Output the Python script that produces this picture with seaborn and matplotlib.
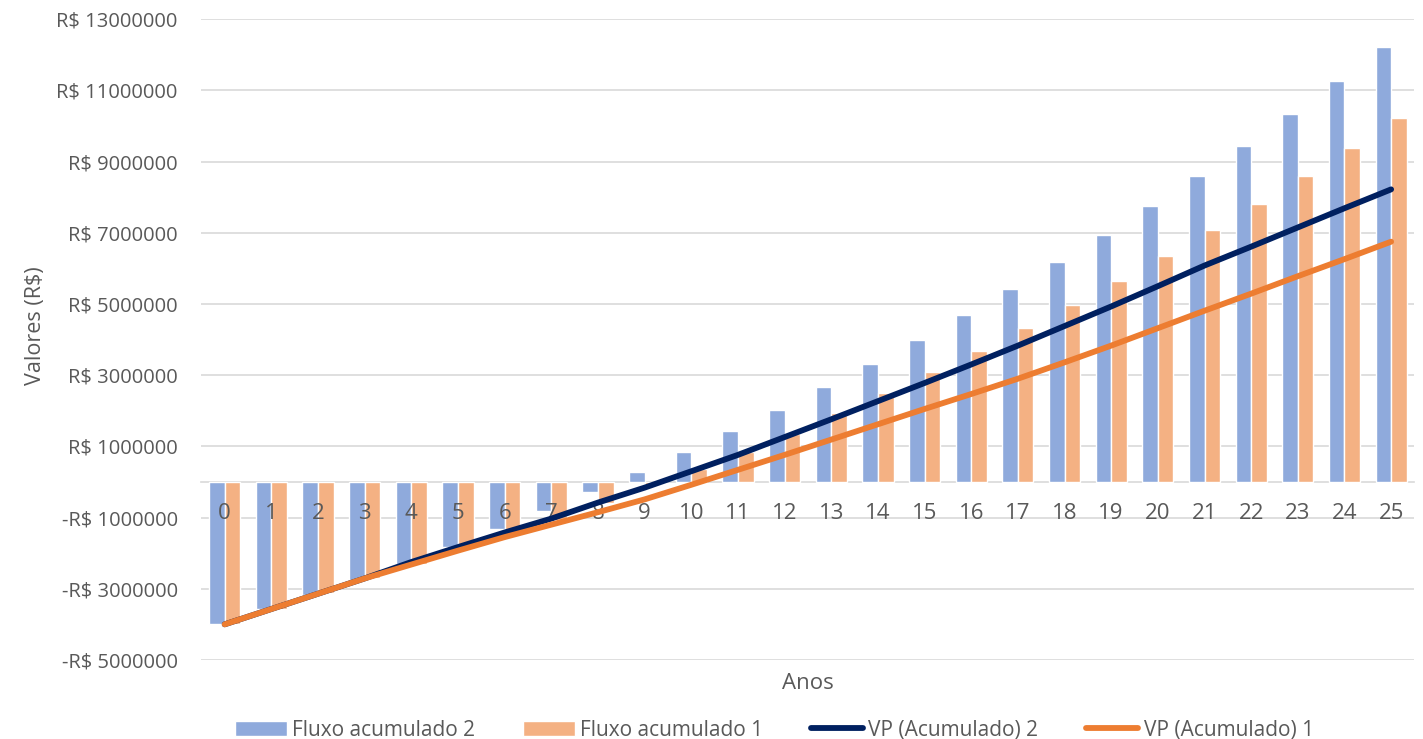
import numpy as np
import pandas as pd
import matplotlib
matplotlib.use("Agg")
import matplotlib.pyplot as plt
import seaborn as sns
from matplotlib.ticker import FuncFormatter

# ---- data (values in R$ millions) ----
anos = list(range(26))
fluxo_acum_2 = [-4.00, -3.58, -3.18, -2.76, -2.31, -1.82, -1.33, -0.81, -0.28, 0.27,
                0.83, 1.42, 2.03, 2.67, 3.32, 3.99, 4.69, 5.42, 6.17, 6.95,
                7.75, 8.59, 9.45, 10.34, 11.26, 12.22]
fluxo_acum_1 = [-4.00, -3.56, -3.13, -2.71, -2.30, -1.85, -1.40, -1.06, -0.60, -0.08,
                0.36, 0.85, 1.36, 1.95, 2.51, 3.09, 3.69, 4.32, 4.98, 5.65,
                6.36, 7.08, 7.82, 8.59, 9.39, 10.22]
vp_acum_2 = [-4.00, -3.57, -3.14, -2.71, -2.25, -1.83, -1.42, -1.03, -0.58, -0.16,
             0.30, 0.76, 1.26, 1.76, 2.27, 2.78, 3.30, 3.83, 4.38, 4.93,
             5.50, 6.08, 6.61, 7.15, 7.69, 8.22]
vp_acum_1 = [-4.00, -3.57, -3.14, -2.71, -2.32, -1.93, -1.55, -1.20, -0.85, -0.49,
             -0.08, 0.34, 0.76, 1.19, 1.62, 2.05, 2.47, 2.90, 3.36, 3.83,
             4.32, 4.81, 5.29, 5.78, 6.26, 6.75]
escala = 1_000_000
y_ticks = [-5, -3, -1, 1, 3, 5, 7, 9, 11, 13]

serie_2 = "Fluxo acumulado 2"
serie_1 = "Fluxo acumulado 1"
linha_2 = "VP (Acumulado) 2"
linha_1 = "VP (Acumulado) 1"

df_bars = pd.DataFrame({
    "Anos": anos * 2,
    "Valor": [v * escala for v in fluxo_acum_2] + [v * escala for v in fluxo_acum_1],
    "Serie": [serie_2] * len(anos) + [serie_1] * len(anos),
})

# ---- style ----
sns.set_theme(style="white")
plt.rcParams["font.family"] = ["Open Sans", "DejaVu Sans"]
text_color = "#595959"
grid_color = "#D9D9D9"

fig = plt.figure(figsize=(14.23, 7.39), dpi=100)
ax = fig.add_axes([0.1415, 0.107, 0.8525, 0.867])

sns.barplot(data=df_bars, x="Anos", y="Valor", hue="Serie",
            hue_order=[serie_2, serie_1],
            palette=["#8FAADC", "#F4B183"], width=0.67, gap=0,
            saturation=1, ax=ax, zorder=2, legend=True)

sns.lineplot(x=anos, y=[v * escala for v in vp_acum_2], color="#002060",
             lw=4.2, ax=ax, label=linha_2, zorder=3, solid_capstyle="round")
sns.lineplot(x=anos, y=[v * escala for v in vp_acum_1], color="#ED7D31",
             lw=4.2, ax=ax, label=linha_1, zorder=4, solid_capstyle="round")

ax.set_ylim(-5 * escala, 13 * escala)
ax.set_xlim(-0.5, 25.5)
ax.set_yticks([t * escala for t in y_ticks])

def fmt(v, pos):
    n = int(round(v))
    return f"-R$ {abs(n)}" if n < 0 else f"R$ {n}"

ax.yaxis.set_major_formatter(FuncFormatter(fmt))

# gridlines behind bars, tick labels above bars
ax.grid(False)
for t in y_ticks:
    ax.axhline(t * escala, color=grid_color, lw=1.2, zorder=0.5)
ax.set_axisbelow(False)

for s in ["left", "right", "top"]:
    ax.spines[s].set_visible(False)
ax.spines["bottom"].set_position(("data", 0))
ax.spines["bottom"].set_color(grid_color)
ax.spines["bottom"].set_linewidth(1.2)
ax.spines["bottom"].set_zorder(0.6)

ax.tick_params(axis="both", length=0, colors=text_color)
ax.tick_params(axis="x", pad=15, labelsize=16)
ax.tick_params(axis="y", pad=17, labelsize=14.5)

ax.set_xlabel("Anos", fontsize=16, color=text_color)
ax.xaxis.set_label_coords(0.5, -0.02)
ax.set_ylabel("Valores (R$)", fontsize=15.5, color=text_color)
ax.yaxis.set_label_coords(-0.128, 0.521)

handles, labels = ax.get_legend_handles_labels()
ax.get_legend().remove()
order = [labels.index(l) for l in [serie_2, serie_1, linha_2, linha_1]]
leg = fig.legend([handles[i] for i in order], [labels[i] for i in order],
                 loc="center", bbox_to_anchor=(0.544, 0.012), ncol=4,
                 frameon=False, fontsize=15, handlelength=2.5, handleheight=0.72,
                 handletextpad=0.25, columnspacing=2.3, labelcolor=text_color,
                 borderpad=0.1)

fig.savefig("out.png", dpi=100)
